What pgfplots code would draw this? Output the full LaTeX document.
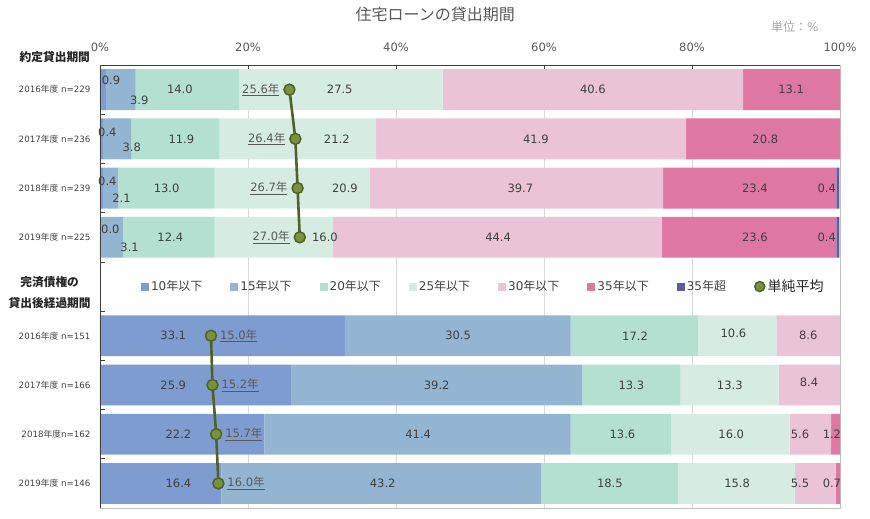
\documentclass[border=0pt]{standalone}
\usepackage{fontspec}
\setmainfont{DejaVu Sans}
\newfontfamily\jp{Noto Sans CJK JP}
\usepackage{pgfplots}
\pgfplotsset{compat=1.18}

\definecolor{cA}{HTML}{7E9CCF}
\definecolor{cB}{HTML}{93B5D1}
\definecolor{cC}{HTML}{B4E0D1}
\definecolor{cD}{HTML}{D6ECE2}
\definecolor{cE}{HTML}{EBC3D6}
\definecolor{cF}{HTML}{DE78A2}
\definecolor{cG}{HTML}{5B5B9F}
\definecolor{avgline}{HTML}{4F6228}
\definecolor{avgfill}{HTML}{77933C}
\definecolor{gridc}{HTML}{D9D9D9}
\definecolor{framec}{HTML}{BFBFBF}
\definecolor{darkc}{HTML}{404040}
\definecolor{tickc}{HTML}{595959}
\definecolor{valc}{HTML}{404040}

\pgfplotsset{sq/.style={legend image code/.code={\fill[##1] (0pt,-4pt) rectangle (8pt,4pt);}}}

\begin{document}
\begin{tikzpicture}
\begin{axis}[
    name=main,
    width=740pt, height=443pt, scale only axis,
    xbar stacked, bar width=0.83,
    xmin=0, xmax=100, ymin=0.5, ymax=9.5, y dir=reverse,
    xtick={0,20,...,100}, xtick pos=right, xticklabel pos=right,
    xticklabel={\pgfmathprintnumber{\tick}\%},
    x tick label style={font=\fontsize{11.5}{12}\selectfont, text=tickc, yshift=10pt},
    /pgf/number format/assume math mode=true,
    xmajorgrids, grid style={draw=gridc, line width=0.8pt},
    ytick={1.5,2.5,...,8.5}, yticklabels={}, ytick pos=left,
    extra y ticks={1,2,3,4,6,7,8,9},
    extra y tick labels={2016{\jp 年度} n=229, 2017{\jp 年度} n=236, 2018{\jp 年度} n=239, 2019{\jp 年度} n=225,
        2016{\jp 年度} n=151, 2017{\jp 年度} n=166, 2018{\jp 年度}n=162, 2019{\jp 年度} n=146},
    extra y tick style={tick style={draw=none},
        yticklabel style={font=\fontsize{8.7}{9}\selectfont, text=darkc, xshift=-6pt}},
    axis line style={draw=framec, line width=0.8pt},
    major tick style={draw=darkc, line width=0.8pt},
    major tick length=5pt,
    legend columns=8,
    legend style={at={(axis description cs:0.518,0.5)}, anchor=center, draw=none, fill=none,
        font=\fontsize{12}{13}\selectfont, text=darkc,
        /tikz/every even column/.append style={column sep=26pt},
        /tikz/every odd column/.append style={column sep=0pt}},
]
\addplot[fill=cA, draw=none, sq] coordinates {(0.9,1)(0.4,2)(0.4,3)(0.0,4)(33.1,6)(25.9,7)(22.2,8)(16.4,9)};
\addlegendentry{10{\jp 年以下}}
\addplot[fill=cB, draw=none, sq] coordinates {(3.9,1)(3.8,2)(2.1,3)(3.1,4)(30.5,6)(39.2,7)(41.4,8)(43.2,9)};
\addlegendentry{15{\jp 年以下}}
\addplot[fill=cC, draw=none, sq] coordinates {(14.0,1)(11.9,2)(13.0,3)(12.4,4)(17.2,6)(13.3,7)(13.6,8)(18.5,9)};
\addlegendentry{20{\jp 年以下}}
\addplot[fill=cD, draw=none, sq] coordinates {(27.5,1)(21.2,2)(20.9,3)(16.0,4)(10.6,6)(13.3,7)(16.0,8)(15.8,9)};
\addlegendentry{25{\jp 年以下}}
\addplot[fill=cE, draw=none, sq] coordinates {(40.6,1)(41.9,2)(39.7,3)(44.4,4)(8.6,6)(8.4,7)(5.6,8)(5.5,9)};
\addlegendentry{30{\jp 年以下}}
\addplot[fill=cF, draw=none, sq] coordinates {(13.1,1)(20.8,2)(23.4,3)(23.6,4)(0,6)(0,7)(1.2,8)(0.7,9)};
\addlegendentry{35{\jp 年以下}}
\addplot[fill=cG, draw=none, sq] coordinates {(0,1)(0,2)(0.4,3)(0.4,4)(0,6)(0,7)(0,8)(0,9)};
\addlegendentry{35{\jp 年超}}
\addlegendimage{legend image code/.code={\draw[fill=avgfill, draw=avgline, line width=1.5pt] (5pt,0pt) circle (5pt);}}
\addlegendentry{\fontsize{14}{14}\selectfont\color{black!85}\jp 単純平均}
\end{axis}

\begin{axis}[
    at={(main.south west)}, anchor=south west,
    width=740pt, height=443pt, scale only axis,
    xmin=0, xmax=100, ymin=0.5, ymax=9.5, y dir=reverse,
    hide axis, clip=false,
]
\path (axis cs:-13.51,-0.821) rectangle (axis cs:104.05,9.703);
\draw[darkc, line width=0.9pt] (axis cs:0,9.5) -- (axis cs:0,0.5) -- (axis cs:100,0.5);

% segment values
\addplot[draw=none, mark=none, nodes near coords, point meta=explicit symbolic,
    every node near coord/.append style={anchor=center, inner sep=0pt, font=\fontsize{11.5}{12}\selectfont, text=valc}]
coordinates {
(1.5,0.81)[0.9] (5.3,1.22)[3.9] (10.8,1)[14.0] (32.4,1)[27.5] (66.6,1)[40.6] (93.4,1)[13.1]
(1.0,1.86)[0.4] (4.3,2.18)[3.8] (11.0,2)[11.9] (32.0,2)[21.2] (58.9,2)[41.9] (89.9,2)[20.8]
(1.0,2.86)[0.4] (2.9,3.2)[2.1] (9.0,3)[13.0] (33.1,3)[20.9] (56.8,3)[39.7] (88.5,3)[23.4] (98.2,3)[0.4]
(1.4,3.84)[0.0] (4.0,4.2)[3.1] (9.5,4)[12.4] (30.4,4)[16.0] (53.8,4)[44.4] (88.5,4)[23.6] (98.2,4)[0.4]
(9.9,6)[33.1] (48.4,6)[30.5] (72.3,6)[17.2] (85.6,5.95)[10.6] (95.7,6)[8.6]
(9.9,7)[25.9] (45.5,7)[39.2] (71.8,7)[13.3] (85.1,7)[13.3] (95.8,6.95)[8.4]
(10.6,8)[22.2] (43.0,8)[41.4] (70.6,8)[13.6] (85.3,8)[16.0] (94.6,8)[5.6] (98.9,8)[1.2]
(10.6,9)[16.4] (38.2,9)[43.2] (68.9,9)[18.5] (86.1,9)[15.8] (94.6,9)[5.5] (98.9,9)[0.7]
};

% simple averages
\addplot[avgline, line width=2.6pt, mark=*, mark size=5.5pt,
    mark options={fill=avgfill, draw=avgline, line width=1.5pt},
    nodes near coords={\underline{\pgfplotspointmeta{\jp 年}}}, point meta=explicit symbolic,
    every node near coord/.append style={anchor=east, xshift=-6pt, font=\fontsize{11.5}{12}\selectfont, text=tickc}]
coordinates {(25.6,1)[25.6] (26.4,2)[26.4] (26.7,3)[26.7] (27.0,4)[27.0]};
\addplot[avgline, line width=2.6pt, mark=*, mark size=5.5pt,
    mark options={fill=avgfill, draw=avgline, line width=1.5pt},
    nodes near coords={\underline{\pgfplotspointmeta{\jp 年}}}, point meta=explicit symbolic,
    every node near coord/.append style={anchor=west, xshift=5pt, font=\fontsize{11.5}{12}\selectfont, text=tickc}]
coordinates {(15.0,6)[15.0] (15.2,7)[15.2] (15.7,8)[15.7] (16.0,9)[16.0]};

\node[font=\jp\fontsize{16}{16}\selectfont, text=tickc] at (axis cs:45.3,-0.537) {住宅ローンの貸出期間};
\node[font=\fontsize{12}{12}\selectfont, text=black!35] at (axis cs:93.9,-0.272) {{\jp 単位：}\%};
\node[font=\jp\bfseries\fontsize{11.7}{12}\selectfont, text=black!85] at (axis cs:-6.1,0.337) {約定貸出期間};
\node[font=\jp\bfseries\fontsize{11.7}{21}\selectfont, text=black!85, align=center] at (axis cs:-6.8,5.12) {完済債権の\\貸出後経過期間};
\end{axis}
\end{tikzpicture}
\end{document}
